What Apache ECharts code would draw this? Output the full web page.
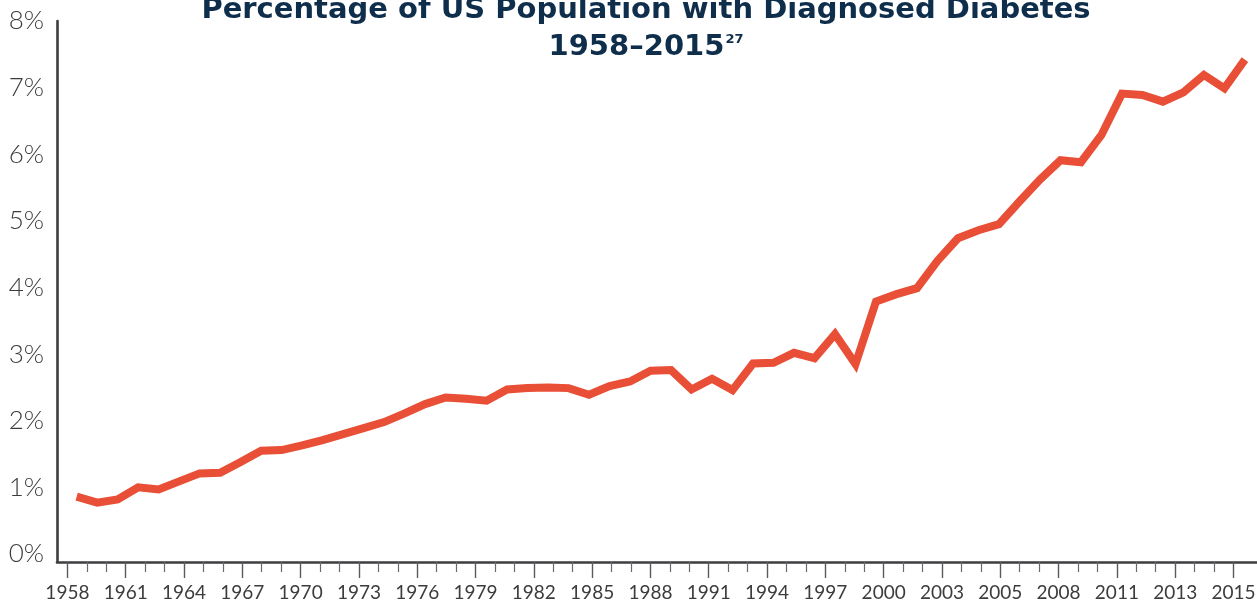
<!DOCTYPE html>
<html>
<head>
<meta charset="utf-8">
<script src="https://cdn.jsdelivr.net/npm/echarts@6/dist/echarts.min.js"></script>
<style>
  html, body { margin: 0; padding: 0; background: #fff; }
  #chart { width: 1257px; height: 600px; }
</style>
</head>
<body>
<div id="chart"></div>
<script>
// years of the survey
const years = [
  1958, 1959, 1960, 1961, 1962, 1963, 1964, 1965, 1966, 1967,
  1968, 1969, 1970, 1971, 1972, 1973, 1974, 1975, 1976, 1977,
  1978, 1979, 1980, 1981, 1982, 1983, 1984, 1985, 1986, 1987,
  1988, 1989, 1990, 1991, 1992, 1993, 1994, 1995, 1996, 1997,
  1998, 1999, 2000, 2001, 2002, 2003, 2004, 2005, 2006, 2007,
  2008, 2009, 2010, 2011, 2012, 2013, 2014, 2015
]

// percent of population with diagnosed diabetes
const diagnosed = [
  0.86, 0.77, 0.82, 1.00, 0.97, 1.09, 1.21, 1.22, 1.38, 1.55,
  1.56, 1.63, 1.71, 1.80, 1.89, 1.98, 2.11, 2.25, 2.35, 2.33,
  2.30, 2.47, 2.49, 2.50, 2.49, 2.39, 2.52, 2.59, 2.75, 2.76,
  2.47, 2.63, 2.46, 2.86, 2.87, 3.02, 2.94, 3.30, 2.85, 3.79,
  3.90, 3.99, 4.40, 4.74, 4.86, 4.95, 5.29, 5.62, 5.91, 5.88,
  6.29, 6.91, 6.89, 6.79, 6.93, 7.19, 6.99, 7.42
]

// labels printed under the axis, one every third tick
const tickLabels = [
  '1958', '1961', '1964', '1967', '1970', '1973', '1976', '1979', '1982', '1985',
  '1988', '1991', '1994', '1997', '2000', '2003', '2005', '2008', '2011', '2013', '2015'
]

const yTicks = [0, 1, 2, 3, 4, 5, 6, 7, 8]

const TICK_STEP = 3
const tickCount = (tickLabels.length - 1) * TICK_STEP + 1
const majorTicks = tickLabels.map((_, i) => i * TICK_STEP)
const minorTicks = []
for (let i = 0; i < tickCount; i++) {
  if (i % TICK_STEP !== 0) minorTicks.push(i)
}

const axisColor = '#3e3e41'
const labelColor = '#3c3c3f'
const titleColor = '#0f2e4c'

const chart = echarts.init(document.getElementById('chart'))

chart.setOption({
  animation: false,
  backgroundColor: '#fff',
  // title drawn as a graphic so it can sit a bit right of centre like the original
  graphic: [
    {
      type: 'text',
      x: 646,
      y: -8,
      style: {
        text: '{t|Percentage of US Population with Diagnosed Diabetes}\n{t|1958–2015}{sup|27}',
        align: 'center',
        verticalAlign: 'top',
        rich: {
          t: {
            fontFamily: 'DejaVu Sans',
            fontWeight: 'bold',
            fontSize: 29,
            lineHeight: 37,
            fill: titleColor
          },
          sup: {
            fontFamily: 'DejaVu Sans',
            fontWeight: 'bold',
            fontSize: 13,
            lineHeight: 37,
            verticalAlign: 'top',
            padding: [4, 0, 0, 1],
            fill: titleColor
          }
        }
      }
    }
  ],
  grid: {
    left: 57,
    right: 0,
    top: 21,
    bottom: 38,
    outerBoundsMode: 'none'
  },
  xAxis: [
    {
      // axis line, long ticks and year labels
      type: 'value',
      position: 'bottom',
      min: -0.535,
      max: 61.21,
      axisLine: { show: true, onZero: false, lineStyle: { color: axisColor, width: 2.6 } },
      axisTick: {
        show: true,
        customValues: majorTicks,
        length: 16,
        lineStyle: { color: '#5a5a5d', width: 1.4 }
      },
      axisLabel: {
        customValues: majorTicks,
        formatter: v => tickLabels[Math.round(v / TICK_STEP)],
        margin: 21,
        fontFamily: 'Lato',
        fontSize: 19,
        color: labelColor
      },
      splitLine: { show: false }
    },
    {
      // short yearly ticks
      type: 'value',
      position: 'bottom',
      min: -0.535,
      max: 61.21,
      axisLine: { show: false, onZero: false },
      axisTick: {
        show: true,
        customValues: minorTicks,
        length: 10,
        lineStyle: { color: '#6a6a6d', width: 1.2 }
      },
      axisLabel: { show: false },
      splitLine: { show: false }
    },
    {
      // data axis for the line itself
      type: 'value',
      show: false,
      min: 1957.04,
      max: 2015.59,
      axisLine: { onZero: false },
      splitLine: { show: false }
    }
  ],
  yAxis: {
    type: 'value',
    min: -0.12,
    max: 8,
    axisLine: { show: true, onZero: false, lineStyle: { color: axisColor, width: 2.6 } },
    axisTick: { show: false },
    splitLine: { show: false },
    axisLabel: {
      customValues: yTicks,
      formatter: v => Math.round(v) + '%',
      margin: 13,
      fontFamily: 'Lato',
      fontWeight: 300,
      fontSize: 26,
      color: labelColor
    }
  },
  series: [
    {
      name: 'Diagnosed diabetes',
      type: 'line',
      xAxisIndex: 2,
      symbol: 'none',
      data: years.map((y, i) => [y, diagnosed[i]]),
      lineStyle: { color: '#e94e36', width: 8, cap: 'butt', join: 'miter' }
    }
  ]
})
</script>
</body>
</html>
